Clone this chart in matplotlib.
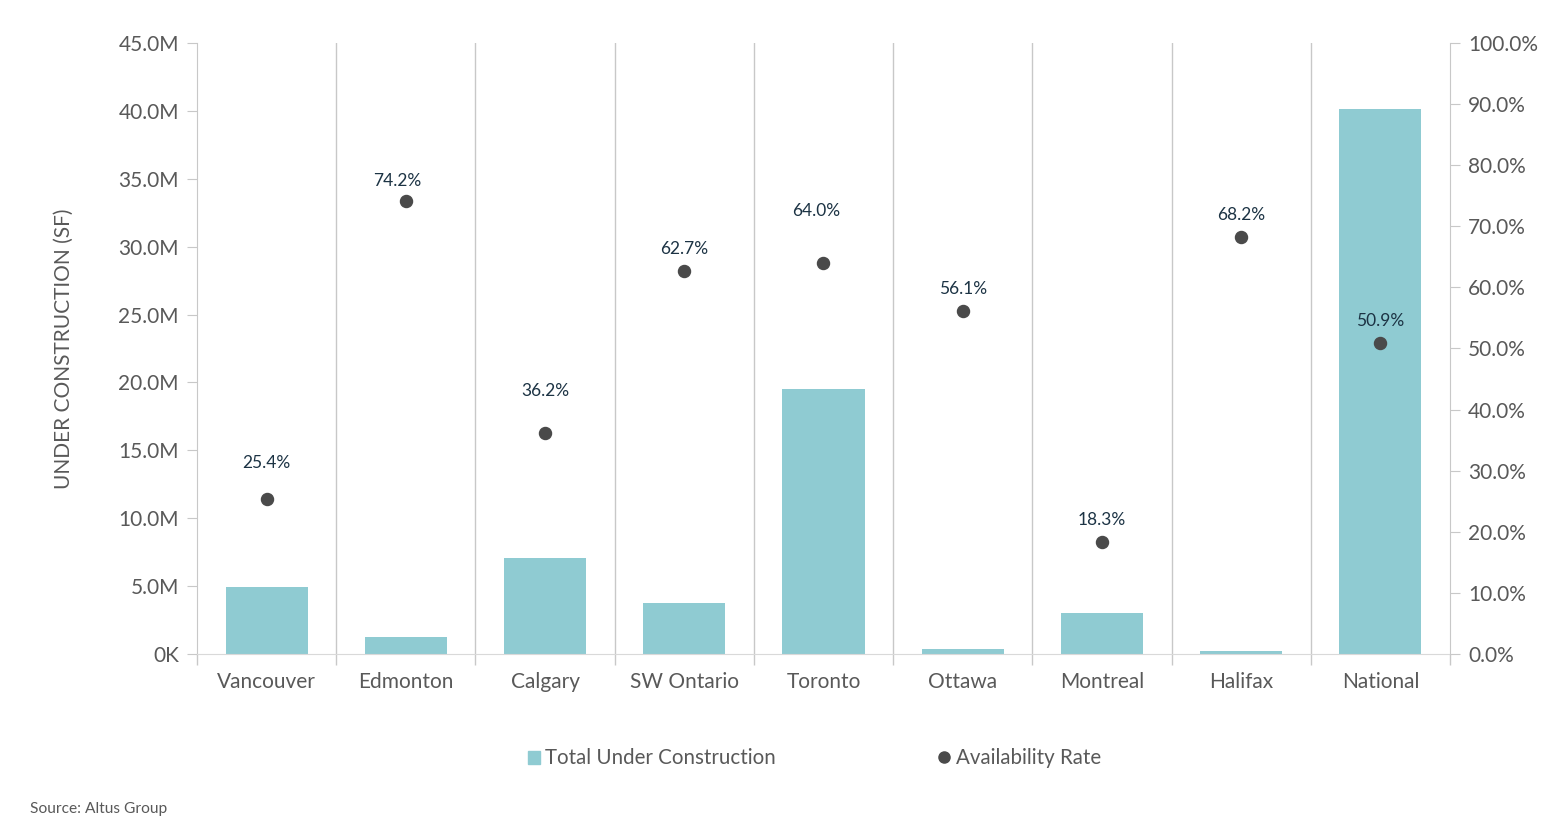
import matplotlib
matplotlib.use('Agg')
import matplotlib.pyplot as plt
from matplotlib.ticker import FuncFormatter
from matplotlib.lines import Line2D
from matplotlib.patches import Patch

plt.rcParams['font.family'] = ['Lato', 'DejaVu Sans']

markets = ['Vancouver', 'Edmonton', 'Calgary', 'SW Ontario', 'Toronto',
           'Ottawa', 'Montreal', 'Halifax', 'National']
under_construction = [4.95e6, 1.28e6, 7.08e6, 3.78e6, 19.55e6,
                      0.38e6, 3.02e6, 0.23e6, 40.15e6]
availability = [25.4, 74.2, 36.2, 62.7, 64.0, 56.1, 18.3, 68.2, 50.9]

# label offsets (points), some labels were nudged by hand in the original
label_dx = [0, -6.5, 0, 0, -5, 0, 0, 0, 0]
label_dy = [20, 8.5, 24, 10, 32, 10, 10, 10, 10]

bar_color = '#8fcbd2'
dot_color = '#4a4a4a'
text_color = '#595959'
grid_color = '#c8c8c8'

fig = plt.figure(figsize=(15.57, 8.27), dpi=100)
ax = fig.add_axes([0.1265, 0.2092, 0.8048, 0.7388])
ax2 = ax.twinx()

x = list(range(len(markets)))
ax.bar(x, under_construction, width=0.59, color=bar_color, zorder=2)
ax.set_xlim(-0.5, len(markets) - 0.5)
ax.set_ylim(0, 45e6)
ax.set_yticks([i * 5e6 for i in range(10)])

def fmt_m(v, pos):
    if v == 0:
        return '0K'
    return '%.1fM' % (v / 1e6)

ax.yaxis.set_major_formatter(FuncFormatter(fmt_m))

# category separators
for b in range(1, len(markets)):
    ax.axvline(b - 0.5, color=grid_color, lw=1, zorder=1)
ax.set_xticks(x)
ax.set_xticklabels(markets)
ax.set_xticks([i - 0.5 for i in range(len(markets) + 1)], minor=True)
ax.tick_params(axis='x', which='major', length=0, pad=13, labelsize=15, labelcolor=text_color)
ax.tick_params(axis='x', which='minor', length=8, color=grid_color, width=1)
ax.tick_params(axis='y', length=7, color=grid_color, labelsize=15, labelcolor=text_color, pad=6)

for s in ['top', 'right']:
    ax.spines[s].set_visible(False)
ax.spines['left'].set_color(grid_color)
ax.spines['bottom'].set_color('#d9d9d9')

ax.set_ylabel('UNDER CONSTRUCTION (SF)', fontsize=15, color=text_color, labelpad=32)

ax2.scatter(x, availability, s=75, color=dot_color, zorder=3)
ax2.set_ylim(0, 100)
ax2.set_yticks(range(0, 101, 10))
ax2.yaxis.set_major_formatter(FuncFormatter(lambda v, p: '%.1f%%' % v))
ax2.tick_params(axis='y', length=7, color=grid_color, labelsize=15, labelcolor=text_color, pad=6)
for s in ['top', 'left', 'bottom']:
    ax2.spines[s].set_visible(False)
ax2.spines['right'].set_color(grid_color)

for xi, v, dx, dy in zip(x, availability, label_dx, label_dy):
    ax2.annotate('%.1f%%' % v, (xi, v), xytext=(dx, dy), textcoords='offset points',
                 ha='center', va='bottom', fontsize=12.5, color='#1c3344')

handles = [Patch(color=bar_color), Line2D([], [], marker='o', ls='', color=dot_color, markersize=8)]
leg = fig.legend(handles, ['Total Under Construction', 'Availability Rate'],
                 loc='center', bbox_to_anchor=(0.523, 0.083), ncol=2, frameon=False,
                 fontsize=14.8, handlelength=0.6, handleheight=0.6, handletextpad=0.25,
                 columnspacing=7.9)
for t in leg.get_texts():
    t.set_color(text_color)

fig.text(0.019, 0.017, 'Source: Altus Group', fontsize=11.2, color=text_color)

fig.savefig('out.png', dpi=100)
